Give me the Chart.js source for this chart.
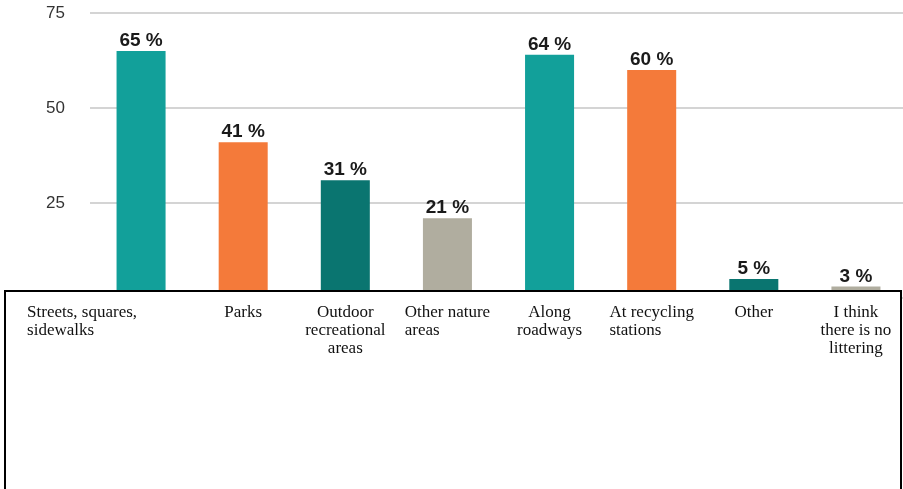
<!DOCTYPE html>
<html>
<head>
<meta charset="utf-8">
<script src="https://cdn.jsdelivr.net/npm/chart.js@4.4.1/dist/chart.umd.min.js"></script>
<style>
  html, body { margin: 0; padding: 0; background: #fff; overflow: hidden; }
  #wrap { position: relative; width: 910px; height: 489px; }
</style>
</head>
<body>
<div id="wrap"><canvas id="chart"></canvas></div>
<script>
// categories (multi-line labels as shown in the text box)
const categories = [
  ["Streets, squares,", "sidewalks"],
  ["Parks"],
  ["Outdoor", "recreational", "areas"],
  ["Other nature", "areas"],
  ["Along", "roadways"],
  ["At recycling", "stations"],
  ["Other"],
  ["I think", "there is no", "littering"]
];
const shares = [65, 41, 31, 21, 64, 60, 5, 3];
const barColors = ["#12a09a", "#f47a3a", "#0a7570", "#b0ad9f", "#12a09a", "#f47a3a", "#0a7570", "#b0ad9f"];
const yTicks = [25, 50, 75];

// how each label block sits relative to its bar
const labelAnchor = ["end", "center", "center", "block", "center", "block", "center", "center"];

const valueLabels = {
  id: "valueLabels",
  afterDatasetsDraw(chart) {
    const ctx = chart.ctx;
    const meta = chart.getDatasetMeta(0);
    ctx.save();
    ctx.font = "bold 19px 'Liberation Sans', Arial, sans-serif";
    ctx.fillStyle = "#1a1a1a";
    ctx.textAlign = "center";
    ctx.textBaseline = "alphabetic";
    meta.data.forEach((bar, i) => {
      ctx.fillText(shares[i] + " %", bar.x, bar.y - 5);
    });
    ctx.restore();
  }
};

// white text box with black border holding the category names
const labelBox = {
  id: "labelBox",
  afterDraw(chart) {
    const ctx = chart.ctx;
    const x = chart.scales.x;
    ctx.save();
    ctx.fillStyle = "#fff";
    ctx.fillRect(5, 291, 896, 220);
    ctx.strokeStyle = "#000";
    ctx.lineWidth = 2;
    ctx.strokeRect(5, 291, 896, 220);

    ctx.font = "17px 'Liberation Serif', 'Times New Roman', serif";
    ctx.fillStyle = "#111";
    ctx.textBaseline = "alphabetic";
    categories.forEach((lines, i) => {
      const cx = x.getPixelForValue(i);
      const w = Math.max(...lines.map(l => ctx.measureText(l).width));
      lines.forEach((line, j) => {
        const y = 317 + j * 18;
        if (labelAnchor[i] === "end") {
          ctx.textAlign = "left";
          ctx.fillText(line, cx - w - 4, y);
        } else if (labelAnchor[i] === "block") {
          ctx.textAlign = "left";
          ctx.fillText(line, cx - w / 2, y);
        } else {
          ctx.textAlign = "center";
          ctx.fillText(line, cx, y);
        }
      });
    });
    ctx.restore();
  }
};

const ctx = document.getElementById("chart").getContext("2d");
new Chart(ctx, {
  type: "bar",
  data: {
    labels: categories,
    datasets: [{
      data: shares,
      backgroundColor: barColors,
      borderWidth: 0,
      barPercentage: 0.48,
      categoryPercentage: 1
    }]
  },
  options: {
    responsive: true,
    maintainAspectRatio: false,
    animation: false,
    layout: { padding: { top: 13, bottom: 191, right: 3, left: 0 } },
    plugins: {
      legend: { display: false },
      tooltip: { enabled: false }
    },
    scales: {
      x: { display: false },
      y: {
        min: 0,
        max: 75,
        afterFit(scale) {
          scale.width = 90;
          scale.paddingTop = 0;
          scale.paddingBottom = 0;
        },
        afterBuildTicks(scale) {
          scale.ticks = [0].concat(yTicks).map(v => ({ value: v }));
        },
        border: { display: false },
        grid: { color: "#d4d4d4", lineWidth: 2, drawTicks: false },
        ticks: {
          padding: 25,
          color: "#333",
          font: { family: "'Liberation Sans', Arial, sans-serif", size: 17 },
          callback: v => (v === 0 ? "" : v)
        }
      }
    }
  },
  plugins: [valueLabels, labelBox]
});
</script>
</body>
</html>
